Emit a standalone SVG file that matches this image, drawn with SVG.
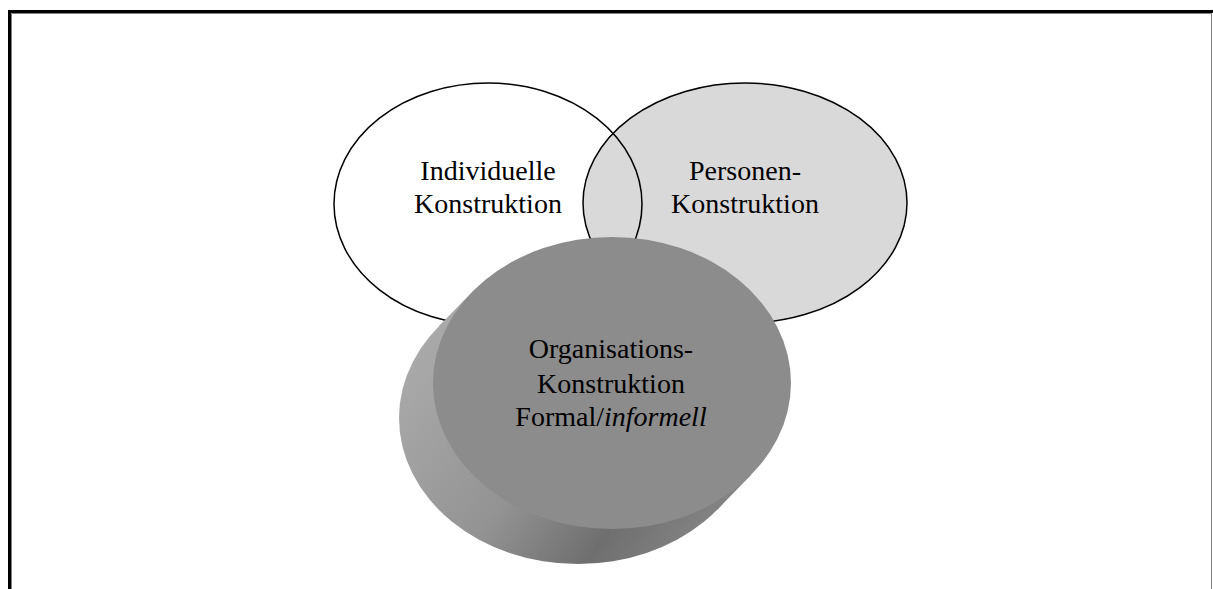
<svg xmlns="http://www.w3.org/2000/svg" width="1213" height="589" viewBox="0 0 1213 589">
<style>
.ring{stroke:#000;stroke-width:1.5}
</style>
<defs>
<linearGradient id="side" gradientUnits="userSpaceOnUse" x1="430" y1="310" x2="740" y2="530">
<stop offset="0" stop-color="#ababab"/>
<stop offset="0.45" stop-color="#939393"/>
<stop offset="0.72" stop-color="#6f6f6f"/>
<stop offset="1" stop-color="#8a8a8a"/>
</linearGradient>
</defs>
<rect x="0" y="0" width="1213" height="589" fill="#fff"/>
<g id="frame">
<path d="M9.5 589 V11.5 H1213" fill="none" stroke="#000" stroke-width="3"/>
<path d="M11.5 589 V13.5 H1211.5 V589" fill="none" stroke="#808080" stroke-width="1"/>
</g>
<g font-family="Liberation Serif, Times New Roman, DejaVu Serif, serif" font-size="28" text-anchor="middle" fill="#000">
<g id="personen">
<ellipse class="ring" cx="745" cy="203" rx="162" ry="120" fill="#d9d9d9"/>
<text x="745" y="180">Personen-</text>
<text x="745" y="213">Konstruktion</text>
</g>
<g id="individuelle">
<ellipse class="ring" cx="488" cy="204" rx="154" ry="121" fill="none"/>
<text x="488" y="180">Individuelle</text>
<text x="488" y="213">Konstruktion</text>
</g>
<g id="organisation">
<ellipse cx="578" cy="418" rx="179" ry="146" fill="url(#side)"/>
<polygon points="473.3,290.7 439.3,325.7 716.7,510.3 750.7,475.3" fill="url(#side)"/>
<ellipse cx="612" cy="383" rx="179" ry="146" fill="#8c8c8c"/>
<text x="611" y="358">Organisations-</text>
<text x="611" y="393">Konstruktion</text>
<text x="611" y="426">Formal/<tspan font-style="italic">informell</tspan></text>
</g>
</g>
<g id="connectors"/>
</svg>
